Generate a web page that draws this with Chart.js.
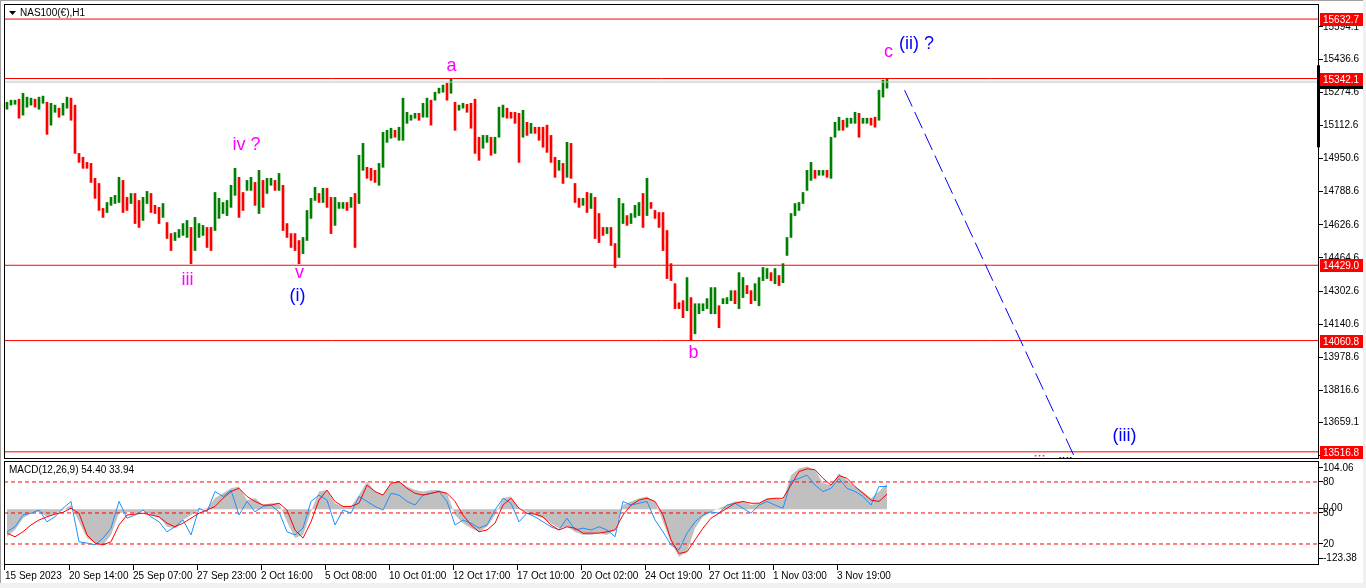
<!DOCTYPE html>
<html>
<head>
<meta charset="utf-8">
<script src="https://cdn.jsdelivr.net/npm/chart.js@4.4.0/dist/chart.umd.min.js"></script>
<style>
  html, body { margin: 0; padding: 0; width: 1366px; height: 588px; overflow: hidden; background: #f0f0f0; }
  #frame { position: absolute; left: 0; top: 0; width: 1363px; height: 583px; background: #fff;
           border-top: 1px solid #a0a0a0; border-left: 1px solid #a0a0a0; box-sizing: border-box; }
  #main { position: absolute; left: 4px; top: 4px; }
  #macd { position: absolute; left: 4px; top: 461px; }
</style>
</head>
<body>
<div id="frame"></div>
<canvas id="main" width="1362" height="455"></canvas>
<canvas id="macd" width="1362" height="122"></canvas>
<script>
// H1 bars, one entry per 4 hours of chart
const highs = [
  15226,15236,15236,15241,15270,15251,15246,15241,15251,15256,
  15226,15221,15212,15197,15221,15251,15246,15212,14976,14957,
  14932,14927,14854,14829,14707,14736,14761,14771,14859,14844,
  14761,14780,14780,14746,14761,14790,14780,14722,14712,14731,
  14638,14584,14589,14604,14633,14648,14614,14663,14633,14624,
  14614,14614,14785,14756,14736,14746,14820,14903,14859,14785,
  14844,14859,14834,14893,14844,14854,14854,14844,14878,14820,
  14633,14584,14584,14550,14565,14697,14756,14810,14780,14805,
  14805,14761,14761,14736,14736,14736,14761,14780,14967,15025,
  14908,14903,14893,14927,15079,15089,15099,15089,15104,15246,
  15177,15163,15172,15172,15221,15246,15236,15275,15295,15310,
  15319,15340,15226,15212,15221,15216,15221,15241,15055,15064,
  15064,15055,15055,15202,15212,15197,15177,15177,15172,15187,
  15128,15123,15104,15104,15104,15114,15064,14957,14942,14927,
  15030,15025,14829,14756,14756,14785,14780,14761,14682,14614,
  14614,14614,14535,14756,14731,14672,14682,14722,14736,14780,
  14854,14736,14697,14687,14687,14599,14437,14339,14246,14256,
  14369,14271,14241,14241,14241,14266,14320,14320,14231,14266,
  14271,14305,14305,14393,14369,14330,14305,14339,14369,14418,
  14413,14393,14413,14379,14437,14565,14682,14731,14736,14785,
  14893,14932,14893,14893,14893,14893,15055,15128,15153,15138,
  15148,15148,15177,15172,15148,15148,15148,15153,15285,15334,15342
];
const lows = [
  15192,15212,15216,15148,15163,15202,15212,15202,15192,15221,
  15069,15114,15177,15153,15163,15197,15138,14976,14932,14903,
  14903,14834,14756,14697,14663,14687,14722,14731,14736,14687,
  14697,14731,14633,14614,14648,14731,14687,14682,14633,14663,
  14560,14501,14550,14565,14575,14565,14437,14501,14565,14575,
  14516,14501,14599,14658,14682,14672,14712,14771,14663,14697,
  14795,14795,14722,14682,14712,14780,14820,14795,14795,14599,
  14565,14516,14501,14437,14486,14550,14658,14746,14736,14736,
  14712,14584,14624,14707,14707,14697,14712,14516,14731,14893,
  14854,14844,14834,14820,14908,15030,15050,15055,15040,15040,
  15123,15138,15148,15138,15153,15153,15114,15236,15270,15275,
  15236,15270,15089,15187,15197,15177,15099,14976,14942,15001,
  15030,14967,14976,15055,15153,15148,15148,15123,14932,15055,
  15064,15074,15074,15040,15006,14981,14932,14859,14893,14829,
  14859,14854,14736,14712,14722,14687,14707,14560,14540,14575,
  14584,14526,14418,14467,14633,14624,14633,14663,14672,14614,
  14672,14707,14658,14614,14501,14364,14354,14217,14217,14173,
  14207,14060,14094,14192,14207,14217,14192,14192,14124,14241,
  14241,14256,14241,14217,14271,14290,14241,14256,14231,14354,
  14364,14354,14339,14330,14344,14477,14565,14672,14697,14731,
  14795,14844,14854,14869,14869,14859,14854,15055,15089,15089,
  15104,15123,15123,15055,15123,15123,15114,15104,15138,15251,15295
];

// MACD window, one value per 2 bars
const macdHist = [
  -61,-46,-20,-9,-6,-17,-9,-2,9,-28,
  -64,-75,-79,-57,-9,-6,-9,-2,-13,-17,
  -39,-42,-24,-13,-2,2,24,35,46,50,
  20,24,9,13,13,-28,-64,-57,-6,39,
  42,13,6,6,31,61,39,31,57,61,
  50,42,39,42,42,35,-13,-31,-42,-50,
  -39,-13,24,28,2,-6,-13,-20,-31,-42,
  -39,-50,-57,-57,-53,-57,-46,9,17,24,
  28,17,-28,-75,-105,-94,-42,-17,-6,2,
  9,17,17,9,13,24,24,20,75,90,
  94,87,57,53,79,64,50,39,24,39,57
];
const macdSignal = [
  -53,-61,-50,-35,-24,-17,-11,-7,2,-9,
  -57,-75,-79,-72,-35,-13,-11,-9,-13,-17,
  -31,-39,-31,-20,-9,-2,6,24,39,46,
  28,17,9,9,13,-2,-46,-64,-28,20,
  42,17,6,6,13,53,39,31,57,61,
  46,35,31,35,39,35,17,-13,-35,-50,
  -46,-31,9,24,2,-9,-11,-17,-35,-46,
  -39,-42,-53,-53,-53,-50,-46,-13,9,20,
  24,17,-13,-68,-98,-94,-68,-42,-20,-9,
  2,13,17,13,13,22,24,24,53,83,
  89,87,68,53,74,68,50,35,20,17,33
];
const macdLine = [
  -50,-39,-13,-9,-2,-28,-17,2,17,-72,
  -75,-79,-64,-42,17,-20,-13,-2,-17,-28,
  -50,-39,-24,-57,2,-6,39,28,42,-13,
  17,-6,6,9,-6,-50,-57,-42,17,31,
  20,-35,-2,-9,28,17,6,-2,35,31,
  17,9,31,35,39,17,-35,-24,-31,-42,
  -35,-2,24,13,-28,-9,-17,-28,-39,-46,
  -20,-46,-42,-46,-39,-46,-61,17,9,13,
  17,-24,-50,-79,-90,-53,-28,-13,-6,-9,
  9,13,2,-9,9,17,9,2,61,68,
  75,53,39,46,68,46,39,28,9,50,50
];
const macdLevels = [60, -8.5, -77];
const macdTickValues = [90.9, 60, 2, -8.5, -77, -108];
const macdTickLabels = ['104.06', '80', '0.00', '50', '20', '-123.38'];

const priceTicks = [15594.1, 15436.6, 15274.6, 15112.6, 14950.6, 14788.6, 14626.6,
                    14464.6, 14302.6, 14140.6, 13978.6, 13816.6, 13659.1, 13497.1];
const levelPrices = [15632.7, 15342.1, 14429.0, 14060.8, 13516.8];
const bidPrice = 15324.6;

const timeTicks = [0, 16, 32, 48, 64, 80, 96, 112, 128, 144, 160, 176, 192, 208];
const timeLabels = ['15 Sep 2023', '20 Sep 14:00', '25 Sep 07:00', '27 Sep 23:00', '2 Oct 16:00',
  '5 Oct 08:00', '10 Oct 01:00', '12 Oct 17:00', '17 Oct 10:00', '20 Oct 02:00',
  '24 Oct 19:00', '27 Oct 11:00', '1 Nov 03:00', '3 Nov 19:00'];

const waveTexts  = ['a', 'iv ?', 'iii', 'v', '(i)', 'b', 'c', '(ii) ?', '(iii)', 'iii', '(ii)'];
const waveBars   = [111.1, 59.9, 45.1, 73.1, 72.6, 171.6, 220.4, 227.4, 279.4, 258.1, 264.6];
const wavePrices = [15403, 15015, 14359, 14393, 14281, 14001, 15471, 15510, 13594, 13462, 13452];
const waveBlue   = [false, false, false, false, true, false, false, true, true, false, true];

const projection = [[224.4, 15285], [267.1, 13482]];

const X_MIN = -0.75, X_MAX = 328;
const FONT = '"Liberation Sans", Arial, sans-serif';

const barColors = highs.map((h, i) => {
  if (i === 0) return '#008000';
  return (h + lows[i]) >= (highs[i - 1] + lows[i - 1]) ? '#008000' : '#ff0000';
});

const hline = (p, color) => ({
  type: 'line', data: [{x: X_MIN, y: p}, {x: X_MAX, y: p}],
  borderColor: color, borderWidth: 1, pointRadius: 0, order: 1
});

const mainDecor = {
  id: 'mainDecor',
  afterDatasetsDraw(chart) {
    const {ctx, chartArea: a, scales: {x, y}} = chart;
    ctx.save();
    ctx.beginPath();
    ctx.rect(a.left, a.top, a.right - a.left, a.bottom - a.top);
    ctx.clip();
    ctx.font = '18px ' + FONT;
    ctx.textAlign = 'center';
    ctx.textBaseline = 'middle';
    waveTexts.forEach((t, i) => {
      ctx.fillStyle = waveBlue[i] ? '#0000ff' : '#ff00ff';
      ctx.fillText(t, x.getPixelForValue(waveBars[i]), y.getPixelForValue(wavePrices[i]));
    });
    ctx.restore();

    ctx.save();
    ctx.strokeStyle = '#000';
    ctx.lineWidth = 1;
    ctx.strokeRect(a.left + 0.5, a.top + 0.5, a.right - a.left - 1, a.bottom - a.top - 1);

    // title
    ctx.fillStyle = '#000';
    ctx.beginPath();
    ctx.moveTo(5, 7); ctx.lineTo(12, 7); ctx.lineTo(8.5, 11); ctx.closePath(); ctx.fill();
    ctx.font = '10px ' + FONT;
    ctx.textAlign = 'left';
    ctx.textBaseline = 'middle';
    ctx.fillText('NAS100(€),H1', 16, 9);

    // range marker on price scale
    const t0 = y.getPixelForValue(15407), t1 = y.getPixelForValue(15006);
    ctx.fillRect(a.right - 2, t0, 3, t1 - t0);

    // price boxes
    const box = (p, bg, txt) => {
      const py = Math.round(y.getPixelForValue(p));
      ctx.fillStyle = bg;
      ctx.fillRect(a.right + 1, py - 6, 43, 13);
      ctx.fillStyle = '#fff';
      ctx.fillText(txt, a.right + 4, py + 1);
    };
    box(bidPrice, '#000', bidPrice.toFixed(1));
    levelPrices.forEach(p => box(p, '#ff0000', p.toFixed(1)));
    ctx.restore();
  }
};

new Chart(document.getElementById('main'), {
  type: 'bar',
  data: {
    datasets: [
      ...levelPrices.map(p => hline(p, '#ff0000')),
      hline(bidPrice, '#c0c0c0'),
      {
        type: 'line', data: projection.map(([bx, p]) => ({x: bx, y: p})),
        borderColor: '#0000ff', borderWidth: 1, borderDash: [18, 6], pointRadius: 0, order: 0
      },
      {
        data: highs.map((h, i) => ({x: i, y: [lows[i], h]})),
        backgroundColor: barColors, borderWidth: 0, barThickness: 2, order: 5
      }
    ]
  },
  options: {
    responsive: false, animation: false, events: [],
    layout: {padding: 0},
    plugins: {legend: {display: false}, tooltip: {enabled: false}},
    scales: {
      x: {type: 'linear', display: false, min: X_MIN, max: X_MAX, offset: false},
      y: {
        position: 'right', min: 13481.8, max: 15706.4,
        afterBuildTicks: s => { s.ticks = priceTicks.map(v => ({value: v})); },
        afterFit: s => { s.width = 47; s.paddingTop = 0; s.paddingBottom = 0; },
        grid: {drawOnChartArea: false, tickLength: 4, color: '#000'},
        border: {display: false},
        ticks: {autoSkip: false, padding: 0, color: '#000', font: {family: FONT, size: 10},
                callback: (v, i) => priceTicks[i].toFixed(1)}
      }
    }
  },
  plugins: [mainDecor]
});

const macdDecor = {
  id: 'macdDecor',
  afterDatasetsDraw(chart) {
    const {ctx, chartArea: a} = chart;
    ctx.save();
    ctx.strokeStyle = '#000';
    ctx.lineWidth = 1;
    ctx.strokeRect(a.left + 0.5, a.top + 0.5, a.right - a.left - 1, a.bottom - a.top - 1);
    ctx.fillStyle = '#000';
    ctx.font = '10px ' + FONT;
    ctx.textBaseline = 'middle';
    ctx.fillText('MACD(12,26,9) 54.40 33.94', 5, 9);
    ctx.restore();
  }
};

const pts = arr => arr.map((v, k) => ({x: 2 * k, y: v}));

new Chart(document.getElementById('macd'), {
  type: 'line',
  data: {
    datasets: [
      {data: pts(macdSignal), borderColor: '#ff0000', borderWidth: 1, pointRadius: 0, order: 0},
      {data: pts(macdLine), borderColor: '#1e90ff', borderWidth: 1, pointRadius: 0, order: 1},
      ...macdLevels.map(lv => ({
        data: [{x: X_MIN, y: lv}, {x: X_MAX, y: lv}], borderColor: '#ff0000',
        borderWidth: 1, borderDash: [4, 3], pointRadius: 0, order: 2
      })),
      {data: pts(macdHist), borderColor: 'rgba(0,0,0,0)', borderWidth: 0, pointRadius: 0,
       fill: 'origin', backgroundColor: '#c0c0c0', order: 3}
    ]
  },
  options: {
    responsive: false, animation: false, events: [],
    layout: {padding: 0},
    plugins: {legend: {display: false}, tooltip: {enabled: false}},
    scales: {
      x: {
        type: 'linear', min: X_MIN, max: X_MAX, offset: false,
        afterBuildTicks: s => { s.ticks = timeTicks.map(t => ({value: t - 0.5})); },
        afterFit: s => { s.height = 18; s.paddingLeft = 0; s.paddingRight = 0; },
        grid: {drawOnChartArea: false, tickLength: 5, color: '#000'},
        border: {display: false},
        ticks: {autoSkip: false, maxRotation: 0, minRotation: 0, align: 'start', padding: 0,
                color: '#000', font: {family: FONT, size: 10}, callback: (v, i) => timeLabels[i]}
      },
      y: {
        position: 'right', min: -123.38, max: 106.3,
        afterBuildTicks: s => { s.ticks = macdTickValues.map(v => ({value: v})); },
        afterFit: s => { s.width = 47; s.paddingTop = 0; s.paddingBottom = 0; },
        grid: {drawOnChartArea: false, tickLength: 4, color: '#000'},
        border: {display: false},
        ticks: {autoSkip: false, padding: 0, color: '#000', font: {family: FONT, size: 10},
                callback: (v, i) => macdTickLabels[i]}
      }
    }
  },
  plugins: [macdDecor]
});
</script>
</body>
</html>
